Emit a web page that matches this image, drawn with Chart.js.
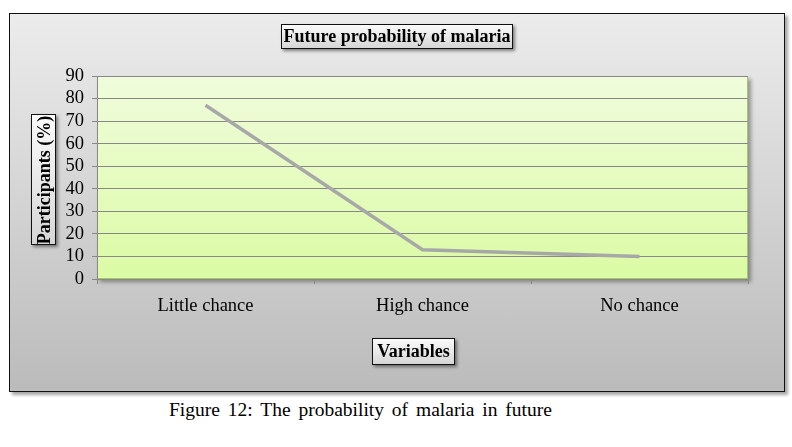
<!DOCTYPE html>
<html>
<head>
<meta charset="utf-8">
<script src="https://cdn.jsdelivr.net/npm/chart.js@4.4.1/dist/chart.umd.min.js"></script>
<style>
  body { margin: 0; background: #fff; width: 792px; height: 447px; position: relative; font-family: "Liberation Serif", serif; }
  #frame {
    position: absolute; left: 9px; top: 13px; width: 774px; height: 377px;
    border: 1px solid #111;
    background: linear-gradient(#ececec, #bbbbbb);
    box-shadow: 3px 3px 3px rgba(0,0,0,0.35);
  }
  #chart { position: absolute; left: 0; top: 0; }
  .box {
    position: absolute; border: 1px solid #111; font-weight: bold; font-size: 18px; color: #000;
    background: linear-gradient(#fbfbfb, #d6d6d6);
    box-shadow: 2px 2px 3px rgba(0,0,0,0.45);
    text-align: center; white-space: nowrap; box-sizing: border-box;
  }
  #title { left: 271px; top: 10px; width: 232px; height: 25px; line-height: 23px; }
  #xtitle { left: 362px; top: 324px; width: 83px; height: 27px; line-height: 25px; }
  #ytitle { left: 21px; top: 100px; width: 25px; height: 131px; }
  #ytitle span { position: absolute; left: 50%; top: 50%; transform: translate(-50%, -50%) rotate(-90deg); line-height: 23px; }
  #caption { position: absolute; left: 169px; top: 399px; font-size: 19.5px; word-spacing: 3px; color: #000; white-space: nowrap; }
</style>
</head>
<body>
<div id="frame">
  <canvas id="chart" width="774" height="377"></canvas>
  <div class="box" id="title">Future probability of malaria</div>
  <div class="box" id="ytitle"><span>Participants (%)</span></div>
  <div class="box" id="xtitle">Variables</div>
</div>
<div id="caption">Figure 12: The probability of malaria in future</div>
<script>
document.addEventListener('DOMContentLoaded', () => {
  const categories = ['Little chance', 'High chance', 'No chance'];
  const participants = [77, 13, 10];
  const yTicks = [0, 10, 20, 30, 40, 50, 60, 70, 80, 90];

  // plot area fill with green gradient, shadow and border
  const plotBackground = {
    id: 'plotBackground',
    beforeDraw(chart) {
      const { ctx, chartArea: a } = chart;
      ctx.save();
      const grad = ctx.createLinearGradient(0, a.top, 0, a.bottom);
      grad.addColorStop(0, '#f0fcdc');
      grad.addColorStop(1, '#dbfba4');
      ctx.shadowColor = 'rgba(0,0,0,0.35)';
      ctx.shadowOffsetX = 3;
      ctx.shadowOffsetY = 3;
      ctx.shadowBlur = 4;
      ctx.fillStyle = grad;
      ctx.fillRect(a.left, a.top, a.right - a.left, a.bottom - a.top);
      ctx.shadowColor = 'transparent';
      ctx.strokeStyle = '#a4c768';
      ctx.lineWidth = 1;
      ctx.strokeRect(a.left + 0.5, a.top + 0.5, a.right - a.left - 1, a.bottom - a.top - 1);
      ctx.restore();
    }
  };

  const font = { family: '"Liberation Serif", serif', size: 18.5 };

  new Chart(document.getElementById('chart'), {
    type: 'line',
    data: {
      labels: categories,
      datasets: [{
        data: participants,
        borderColor: '#a8a8a8',
        borderWidth: 3.5,
        pointRadius: 0,
        tension: 0,
        fill: false,
      }],
    },
    options: {
      responsive: false,
      animation: false,
      layout: { padding: { left: 47, right: 36, top: 62, bottom: 52 } },
      plugins: { legend: { display: false }, tooltip: { enabled: false } },
      scales: {
        x: {
          offset: true,
          afterFit: (s) => { s.height = 60; },
          border: { color: '#888', width: 1 },
          grid: { offset: true, drawOnChartArea: false, tickLength: 5, color: '#888' },
          ticks: { color: '#000', font, padding: 11 },
        },
        y: {
          min: 0,
          max: 90,
          afterFit: (s) => { s.width = 40; },
          afterBuildTicks: (s) => { s.ticks = yTicks.map(v => ({ value: v })); },
          border: { color: '#888', width: 1 },
          grid: { color: '#888', tickLength: 5 },
          ticks: { color: '#000', font, padding: 8, autoSkip: false },
        },
      },
    },
    plugins: [plotBackground],
  });
});
</script>
</body>
</html>
